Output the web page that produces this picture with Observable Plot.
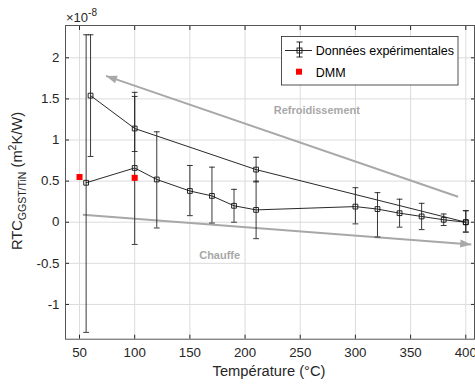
<!DOCTYPE html>
<html><head><meta charset="utf-8">
<script src="https://cdn.jsdelivr.net/npm/d3@7"></script>
<script src="https://cdn.jsdelivr.net/npm/@observablehq/plot@0.6"></script>
<style>body{margin:0;background:#fff} svg{font-family:"Liberation Sans",Arial,sans-serif}</style>
</head><body><div id="chart"></div>
<script>
// values in units of 1e-8 m²K/W
const coolT  = [60, 100, 210, 400];
const coolV  = [1.54, 1.14, 0.64, 0.0];
const coolLo = [0.80, 0.86, 0.49, -0.12];
const coolHi = [2.28, 1.53, 0.79, 0.14];

const heatT  = [56, 100, 120, 150, 170, 190, 210, 300, 320, 340, 360, 380, 400];
const heatV  = [0.48, 0.66, 0.52, 0.38, 0.32, 0.20, 0.15, 0.19, 0.16, 0.11, 0.07, 0.03, 0.0];
const heatLo = [-1.34, -0.27, -0.07, 0.08, -0.01, 0.00, -0.20, -0.02, -0.18, -0.06, -0.09, -0.04, -0.12];
const heatHi = [2.28, 1.58, 1.10, 0.69, 0.67, 0.40, 0.50, 0.42, 0.36, 0.28, 0.23, 0.10, 0.14];

const dmmT = [50, 100];
const dmmV = [0.55, 0.54];

const xTicks = [50, 100, 150, 200, 250, 300, 350, 400];
const yTicks = [-1, -0.5, 0, 0.5, 1, 1.5, 2];

const arrowX1 = [393, 53];
const arrowY1 = [0.31, 0.09];
const arrowX2 = [74, 405];
const arrowY2 = [1.78, -0.27];

const noteText = ["Refroidissement", "Chauffe"];
const noteX = [265, 177];
const noteY = [1.36, -0.405];

const legendLabels = ["Données expérimentales", "DMM"];

// tables
const series = (T, V, Lo, Hi) => T.map((t, i) => ({x: t, y: V[i], lo: Lo[i], hi: Hi[i]}));
const cool = series(coolT, coolV, coolLo, coolHi);
const heat = series(heatT, heatV, heatLo, heatHi);
const all = cool.concat(heat);
const caps = all.flatMap(d => [{x: d.x, y: d.lo}, {x: d.x, y: d.hi}]);
const dmm = dmmT.map((t, i) => ({x: t, y: dmmV[i]}));
const arrows = arrowX1.map((x, i) => ({x1: x, y1: arrowY1[i], x2: arrowX2[i], y2: arrowY2[i]}));
const notes = noteText.map((t, i) => ({t, x: noteX[i], y: noteY[i]}));

const hline = {draw(ctx, size) { const r = Math.sqrt(size / Math.PI); ctx.moveTo(-r, 0); ctx.lineTo(r, 0); }};

const arrowGray = "#a8a8a8";
function headMarker(color, context) {
  const ns = "http://www.w3.org/2000/svg";
  const doc = (context && context.document) || document;
  const m = doc.createElementNS(ns, "marker");
  m.setAttribute("viewBox", "-12 -6 12 12");
  m.setAttribute("markerUnits", "userSpaceOnUse");
  m.setAttribute("markerWidth", 12);
  m.setAttribute("markerHeight", 12);
  m.setAttribute("orient", "auto");
  m.setAttribute("refX", 0);
  m.setAttribute("refY", 0);
  const p = doc.createElementNS(ns, "path");
  p.setAttribute("d", "M-11,-4 L0,0 L-11,4 Z");
  p.setAttribute("fill", arrowGray);
  p.setAttribute("stroke", "none");
  m.appendChild(p);
  return m;
}

const ink = "#262626";
const plot = Plot.plot({
  width: 475, height: 384,
  marginLeft: 65, marginRight: 1, marginTop: 25, marginBottom: 45.3,
  x: {domain: [37.3, 407.9]},
  y: {domain: [-1.423, 2.393]},
  style: {fontFamily: '"Liberation Sans", Arial, sans-serif', fontSize: "13.3px", color: ink, background: "white"},
  marks: [
    Plot.gridX(xTicks, {stroke: "#dcdcdc", strokeOpacity: 1, strokeWidth: 1}),
    Plot.gridY(yTicks, {stroke: "#dcdcdc", strokeOpacity: 1, strokeWidth: 1}),
    Plot.link(arrows, {x1: "x1", y1: "y1", x2: "x2", y2: "y2", stroke: arrowGray, strokeWidth: 2, markerEnd: headMarker}),
    Plot.text(notes, {x: "x", y: "y", text: "t", fill: arrowGray, fontWeight: "bold", fontSize: 11}),
    Plot.line(cool, {x: "x", y: "y", stroke: "#111", strokeWidth: 0.9}),
    Plot.line(heat, {x: "x", y: "y", stroke: "#111", strokeWidth: 0.9}),
    Plot.ruleX(all, {x: "x", y1: "lo", y2: "hi", stroke: "#222", strokeWidth: 0.9}),
    Plot.dot(caps, {x: "x", y: "y", symbol: hline, r: 2.9, stroke: "#222", fill: "none", strokeWidth: 0.9}),
    Plot.dot(all, {x: "x", y: "y", symbol: "square", r: 2.7, stroke: "#111", fill: "none", strokeWidth: 0.9}),
    Plot.dot(dmm, {x: "x", y: "y", symbol: "square", r: 3.4, fill: "#ff0000", stroke: "none"}),
    Plot.axisX(xTicks, {anchor: "bottom", tickSize: 0, tickPadding: 8, label: null, tickFormat: d => String(d)}),
    Plot.axisX(xTicks, {anchor: "bottom", tickSize: -4, tickFormat: () => "", label: null, stroke: ink}),
    Plot.axisX(xTicks, {anchor: "top", tickSize: -4, tickFormat: () => "", label: null, stroke: ink}),
    Plot.axisY(yTicks, {anchor: "left", tickSize: 0, tickPadding: 6, label: null, tickFormat: d => String(d)}),
    Plot.axisY(yTicks, {anchor: "left", tickSize: -4, tickFormat: () => "", label: null, stroke: ink}),
    Plot.axisY(yTicks, {anchor: "right", tickSize: -4, tickFormat: () => "", label: null, stroke: ink}),
    Plot.frame({stroke: "#555", strokeWidth: 1})
  ]
});
document.getElementById("chart").appendChild(plot);

const svg = d3.select(plot);
const font = '"Liberation Sans", Arial, sans-serif';
// multiplier
const mult = svg.append("text").attr("x", 66).attr("y", 22).attr("text-anchor", "start").attr("fill", ink).style("font-family", font).style("font-size", "13px");
mult.append("tspan").text("×10");
mult.append("tspan").attr("dy", -6).style("font-size", "10px").text("-8");

// x label
svg.append("text").attr("x", 269).attr("y", 375.5).attr("text-anchor", "middle").attr("fill", ink)
  .style("font-family", font).style("font-size", "14.7px").text("Température (°C)");

// y label
const yl = svg.append("text").attr("transform", "translate(22,181) rotate(-90)").attr("text-anchor", "middle").attr("fill", ink)
  .style("font-family", font).style("font-size", "14.7px");
yl.append("tspan").text("RTC");
yl.append("tspan").attr("dy", 4).style("font-size", "10.5px").text("GGST/TiN");
yl.append("tspan").attr("dy", -4).text(" (m");
yl.append("tspan").attr("dy", -6).style("font-size", "10.5px").text("2");
yl.append("tspan").attr("dy", 6).text("K/W)");

// legend
const lg = svg.append("g");
lg.append("rect").attr("x", 281.5).attr("y", 36.5).attr("width", 176.5).attr("height", 48.5).attr("fill", "white").attr("stroke", ink).attr("stroke-width", 0.8);
lg.append("line").attr("x1", 285).attr("x2", 312).attr("y1", 50.5).attr("y2", 50.5).attr("stroke", "#111").attr("stroke-width", 0.9);
lg.append("line").attr("x1", 299.5).attr("x2", 299.5).attr("y1", 42).attr("y2", 57).attr("stroke", "#111").attr("stroke-width", 0.9);
lg.append("line").attr("x1", 296.5).attr("x2", 302.5).attr("y1", 42).attr("y2", 42).attr("stroke", "#111").attr("stroke-width", 0.9);
lg.append("line").attr("x1", 296.5).attr("x2", 302.5).attr("y1", 57).attr("y2", 57).attr("stroke", "#111").attr("stroke-width", 0.9);
lg.append("rect").attr("x", 297).attr("y", 48).attr("width", 5).attr("height", 5).attr("fill", "none").attr("stroke", "#111").attr("stroke-width", 0.9);
lg.append("rect").attr("x", 296).attr("y", 68.7).attr("width", 6).attr("height", 6).attr("fill", "#ff0000");
lg.selectAll("text.lg").data(legendLabels).join("text").attr("class", "lg")
  .attr("x", 315.7).attr("y", (d, i) => 55 + i * 21.7).attr("text-anchor", "start").attr("fill", "#000")
  .style("font-family", font).style("font-size", "12.5px").text(d => d);
</script>
</body></html>
